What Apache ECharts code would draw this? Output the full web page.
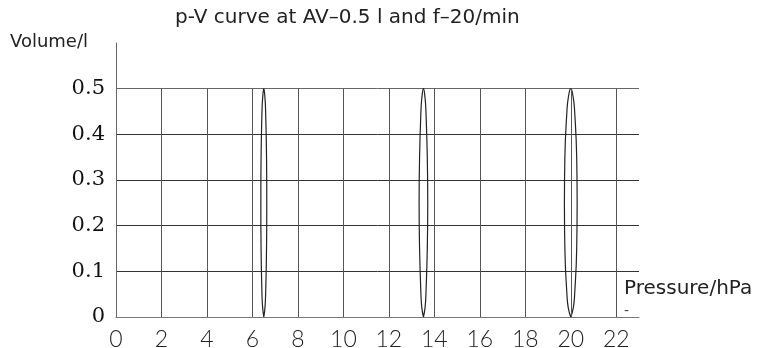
<!DOCTYPE html>
<html>
<head>
<meta charset="utf-8">
<script src="https://cdn.jsdelivr.net/npm/echarts@6/dist/echarts.min.js"></script>
<style>
  html, body { margin: 0; padding: 0; background: #fff; }
  #main { width: 763px; height: 348px; }
</style>
</head>
<body>
<div id="main"></div>
<script>
// x grid positions (pressure ticks)
var pressureTicks = [2, 4, 6, 8, 10, 12, 14, 16, 18, 20, 22];

// three breathing loops
var loop1P = [6.5, 6.55, 6.58, 6.62, 6.63, 6.62, 6.58, 6.55, 6.5, 6.45, 6.42, 6.38, 6.37, 6.38, 6.42, 6.45, 6.5];
var loop1V = [0, 0.02, 0.05, 0.15, 0.25, 0.35, 0.45, 0.48, 0.5, 0.48, 0.45, 0.35, 0.25, 0.15, 0.05, 0.02, 0];
var loop2P = [13.52, 13.59, 13.63, 13.69, 13.71, 13.69, 13.63, 13.59, 13.52, 13.45, 13.41, 13.35, 13.33, 13.35, 13.41, 13.45, 13.52];
var loop2V = [0, 0.02, 0.05, 0.15, 0.25, 0.35, 0.45, 0.48, 0.5, 0.48, 0.45, 0.35, 0.25, 0.15, 0.05, 0.02, 0];
var loop3P = [20, 20.11, 20.17, 20.26, 20.28, 20.26, 20.17, 20.11, 20, 19.89, 19.83, 19.74, 19.72, 19.74, 19.83, 19.89, 20];
var loop3V = [0, 0.02, 0.05, 0.15, 0.25, 0.35, 0.45, 0.48, 0.5, 0.48, 0.45, 0.35, 0.25, 0.15, 0.05, 0.02, 0];

var chartDom = document.getElementById('main');
var myChart = echarts.init(chartDom);
var option;

function pairs(p, v) {
    return p.map(function (x, i) { return [x, v[i]]; });
}

function loopSeries(p, v, extra) {
    var s = {
        type: 'line',
        data: pairs(p, v),
        smooth: true,
        showSymbol: false,
        silent: true,
        lineStyle: { color: '#222', width: 1.2 }
    };
    return Object.assign(s, extra || {});
}

option = {
    animation: false,
    title: {
        text: 'p-V curve at AV\u20130.5 l and f\u201320/min',
        left: 170,
        top: 3,
        textStyle: {
            fontFamily: 'DejaVu Sans',
            fontSize: 20,
            fontWeight: 'normal',
            color: '#222'
        }
    },
    grid: {
        left: 116,
        right: 124,
        top: 43,
        bottom: 31,
        outerBoundsMode: 'none'
    },
    xAxis: {
        type: 'value',
        min: 0,
        max: 23,
        interval: 2,
        name: '{a|Pressure/hPa}\n{b|-}',
        nameLocation: 'end',
        nameGap: -15,
        nameMoveOverlap: false,
        nameTextStyle: {
            fontFamily: 'DejaVu Sans',
            fontSize: 20,
            color: '#222',
            align: 'left',
            verticalAlign: 'bottom',
            rich: {
                a: { fontFamily: 'DejaVu Sans', fontSize: 20, color: '#222', lineHeight: 32 },
                b: { fontFamily: 'DejaVu Sans', fontSize: 14, color: '#444', lineHeight: 12 }
            }
        },
        axisLine: { lineStyle: { color: '#777', width: 1 } },
        axisTick: { show: false },
        splitLine: { show: false },
        axisLabel: {
            showMaxLabel: false,
            margin: 11,
            fontFamily: 'Lato',
            fontWeight: 300,
            fontSize: 23,
            color: '#222'
        }
    },
    yAxis: {
        type: 'value',
        min: 0,
        max: 0.6,
        interval: 0.1,
        name: 'Volume/l',
        nameLocation: 'end',
        nameGap: 1,
        nameMoveOverlap: false,
        nameTextStyle: {
            fontFamily: 'DejaVu Sans',
            fontSize: 18,
            color: '#222',
            align: 'right',
            verticalAlign: 'middle',
            padding: [0, 28, 0, 0]
        },
        axisLine: { show: true, lineStyle: { color: '#666', width: 1 } },
        axisTick: { show: false },
        splitLine: {
            show: true,
            lineStyle: {
                color: ['#777', '#333', '#333', '#333', '#333', '#666', 'rgba(0,0,0,0)'],
                width: 1
            }
        },
        axisLabel: {
            showMaxLabel: false,
            margin: 11,
            fontFamily: 'DejaVu Serif',
            fontSize: 21,
            color: '#111'
        }
    },
    series: [
        loopSeries(loop1P, loop1V, {
            markLine: {
                silent: true,
                symbol: ['none', 'none'],
                label: { show: false },
                lineStyle: { color: '#555', width: 1, type: 'solid' },
                data: pressureTicks.map(function (x) {
                    return [{ coord: [x, 0] }, { coord: [x, 0.5] }];
                })
            }
        }),
        loopSeries(loop2P, loop2V),
        loopSeries(loop3P, loop3V)
    ]
};

option && myChart.setOption(option);

window.addEventListener('resize', myChart.resize);
</script>
</body>
</html>
